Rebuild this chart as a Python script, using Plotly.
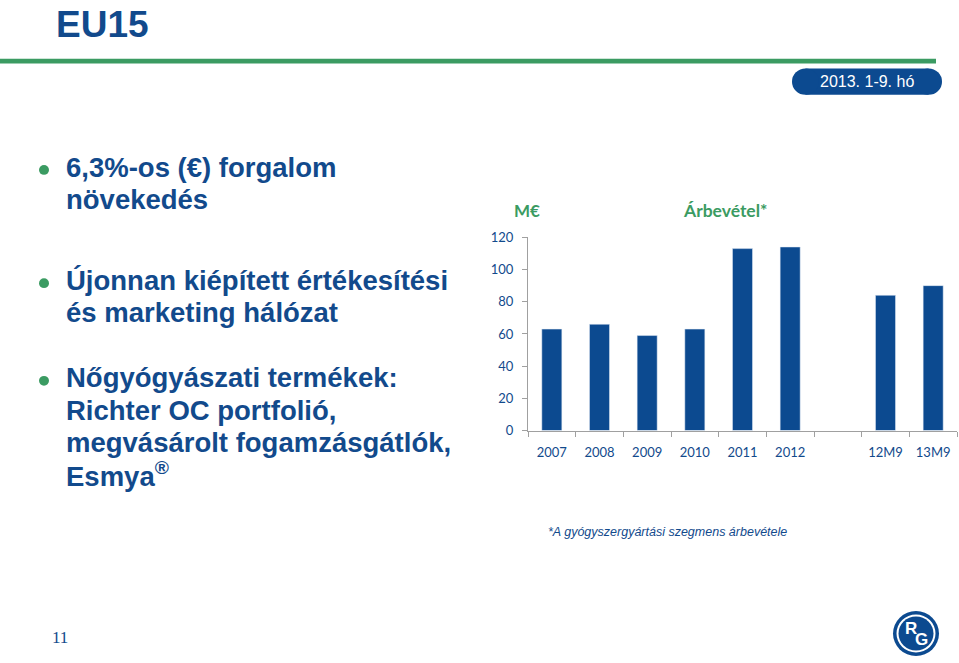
import plotly.graph_objects as go

W, H = 959, 663

# ---- data ----
categories = ["2007", "2008", "2009", "2010", "2011", "2012", " ", "12M9", "13M9"]
revenue = [63, 66, 59, 63, 113, 114, None, 84, 90]
y_ticks = [0, 20, 40, 60, 80, 100, 120]

bullet_lines = [
    ["6,3%-os (€) forgalom", "növekedés"],
    ["Újonnan kiépített értékesítési", "és marketing hálózat"],
    ["Nőgyógyászati termékek:", "Richter OC portfolió,", "megvásárolt fogamzásgátlók,", "Esmya<sup>®</sup>"],
]

BLUE = "#0C4A90"
TXT = "#124A8C"
GREEN = "#3B9B62"
AXIS = "#A0A0A0"


def px(x):
    return x / W


def py(y):
    return 1 - y / H


fig = go.Figure()
fig.add_trace(go.Bar(x=categories, y=revenue, marker_color=BLUE, width=0.42,
                     hoverinfo="x+y"))

fig.update_layout(
    width=W, height=H,
    margin=dict(l=0, r=0, t=0, b=0),
    paper_bgcolor="white", plot_bgcolor="white",
    showlegend=False,
    xaxis=dict(
        domain=[px(528), px(957)],
        type="category", categoryorder="array", categoryarray=categories,
        showline=True, linecolor=AXIS, linewidth=1,
        ticks="outside", tickson="boundaries", ticklen=5, tickcolor=AXIS,
        tickfont=dict(family="Lato, Open Sans, sans-serif", size=13, color=TXT),
        ticklabelstandoff=10,
        showgrid=False, zeroline=False, fixedrange=True,
    ),
    yaxis=dict(
        domain=[py(433), py(235)],
        range=[0, 120], tickvals=y_ticks,
        showline=True, linecolor=AXIS, linewidth=1,
        ticks="outside", ticklen=5, tickcolor=AXIS,
        tickfont=dict(family="Lato, Open Sans, sans-serif", size=13, color=TXT),
        ticklabelstandoff=6,
        showgrid=False, zeroline=False, fixedrange=True,
    ),
)

shapes = []
annotations = []

# header
annotations.append(dict(x=px(54), y=py(17), xref="paper", yref="paper", text="<b>EU15</b>",
                        showarrow=False, xanchor="left", yanchor="middle",
                        font=dict(family="Liberation Sans, Arial, sans-serif", size=37, color=TXT)))
shapes.append(dict(type="rect", xref="paper", yref="paper", x0=0, x1=px(936), y0=py(57), y1=py(52),
                   fillcolor=GREEN, line=dict(width=0), layer="above"))
# pill
pt, pb, pl, pr = 62, 89, 792, 942
r = (pb - pt) / 2
shapes.append(dict(type="rect", xref="paper", yref="paper", x0=px(pl + r), x1=px(pr - r), y0=py(pb), y1=py(pt),
                   fillcolor=BLUE, line=dict(width=0)))
for cx in (pl + r, pr - r):
    shapes.append(dict(type="circle", xref="paper", yref="paper", x0=px(cx - r), x1=px(cx + r),
                       y0=py(pb), y1=py(pt), fillcolor=BLUE, line=dict(width=0)))
annotations.append(dict(x=px(867), y=py(75.5), xref="paper", yref="paper", text="2013. 1-9. hó",
                        showarrow=False, xanchor="center", yanchor="middle",
                        font=dict(family="Liberation Sans Narrow, Liberation Sans, Arial, sans-serif", size=16, color="white")))

# bullets
starts = [166, 282, 382]
spacing = 33
for group, y0 in zip(bullet_lines, starts):
    shapes.append(dict(type="circle", xref="paper", yref="paper", x0=px(39), x1=px(49),
                       y0=py(y0 + 5), y1=py(y0 - 5), fillcolor=GREEN, line=dict(width=0)))
    for i, line in enumerate(group):
        annotations.append(dict(x=px(64), y=py(y0 - 3 + i * spacing), xref="paper", yref="paper",
                                text="<b>" + line + "</b>", showarrow=False,
                                xanchor="left", yanchor="middle",
                                font=dict(family="Liberation Sans, Arial, sans-serif", size=27.5, color=TXT)))

# chart titles
annotations.append(dict(x=px(512), y=py(207), xref="paper", yref="paper", text="<b>M€</b>",
                        showarrow=False, xanchor="left", yanchor="middle",
                        font=dict(family="Lato, sans-serif", size=17, color=GREEN)))
annotations.append(dict(x=px(725), y=py(207), xref="paper", yref="paper", text="<b>Árbevétel*</b>",
                        showarrow=False, xanchor="center", yanchor="middle",
                        font=dict(family="Lato, sans-serif", size=17.5, color=GREEN)))

# footnote
annotations.append(dict(x=px(667), y=py(537), xref="paper", yref="paper",
                        text="<i>*A gyógyszergyártási szegmens árbevétele</i>",
                        showarrow=False, xanchor="center", yanchor="middle",
                        font=dict(family="Liberation Sans, Arial, sans-serif", size=12.5, color=TXT)))

# page number
annotations.append(dict(x=px(60), y=py(645), xref="paper", yref="paper", text="11",
                        showarrow=False, xanchor="center", yanchor="middle",
                        font=dict(family="Liberation Serif, Times New Roman, serif", size=17, color=TXT)))

# logo
lcx, lcy = 916, 641
for rad, col in ((23, BLUE), (19.5, "white"), (17.5, BLUE)):
    shapes.append(dict(type="circle", xref="paper", yref="paper", x0=px(lcx - rad), x1=px(lcx + rad),
                       y0=py(lcy + rad), y1=py(lcy - rad), fillcolor=col, line=dict(width=0)))
annotations.append(dict(x=px(911), y=py(636), xref="paper", yref="paper", text="<b>R</b>",
                        showarrow=False, xanchor="center", yanchor="middle",
                        font=dict(family="Liberation Sans, Arial, sans-serif", size=17, color="white")))
annotations.append(dict(x=px(921), y=py(647), xref="paper", yref="paper", text="<b>G</b>",
                        showarrow=False, xanchor="center", yanchor="middle",
                        font=dict(family="Liberation Sans, Arial, sans-serif", size=17, color="white")))

fig.update_layout(shapes=shapes, annotations=annotations)
fig.write_html("out.html")
